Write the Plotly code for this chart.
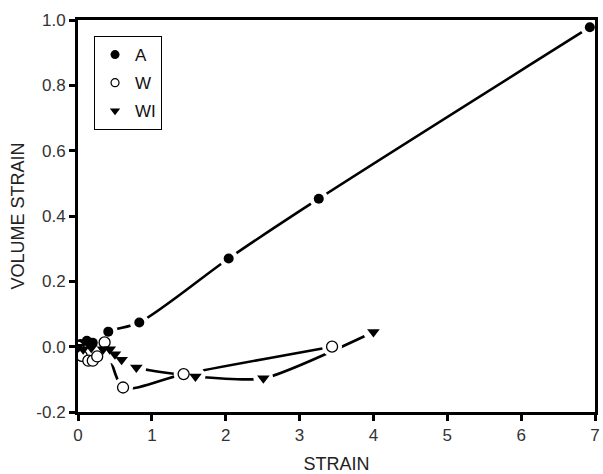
import plotly.graph_objects as go

# Specimen A
a_strain = [0.0, 0.03, 0.12, 0.2, 0.41, 0.83, 2.04, 3.26, 6.93]
a_vol = [0.0, 0.008, 0.018, 0.012, 0.046, 0.074, 0.27, 0.453, 0.978]

# Specimen W
w_strain = [0.0, 0.05, 0.14, 0.2, 0.26, 0.36, 0.61, 1.43, 3.44]
w_vol = [0.0, -0.028, -0.043, -0.043, -0.03, 0.013, -0.125, -0.084, 0.0]

# Specimen WI
wi_strain = [0.0, 0.07, 0.18, 0.34, 0.43, 0.5, 0.59, 0.79, 1.59, 2.51, 4.0]
wi_vol = [0.0, -0.008, -0.003, -0.008, -0.008, -0.023, -0.04, -0.064, -0.091, -0.097, 0.045]

x_ticks = [0, 1, 2, 3, 4, 5, 6, 7]
y_ticks = [-0.2, 0.0, 0.2, 0.4, 0.6, 0.8, 1.0]

# name, x, y, symbol, size, spline smoothing
series = [
    ("A", a_strain, a_vol, "circle", 10, 0.8),
    ("W", w_strain, w_vol, "circle-open", 11, 0.75),
    ("WI", wi_strain, wi_vol, "triangle-down", 11, 0.6),
]

fig = go.Figure()

# connecting curves
for name, xs, ys, sym, sz, sm in series:
    fig.add_trace(go.Scatter(
        x=xs, y=ys, mode="lines", showlegend=False, hoverinfo="skip",
        line=dict(color="black", width=2.6, shape="spline", smoothing=sm),
    ))

# white halos so each curve stops short of its markers
for name, xs, ys, sym, sz, sm in series:
    fig.add_trace(go.Scatter(
        x=xs, y=ys, mode="markers", showlegend=False, hoverinfo="skip",
        marker=dict(symbol="circle", size=sz + 9, color="white"),
    ))

# data markers (plot)
for name, xs, ys, sym, sz, sm in series:
    if sym == "circle-open":
        m = dict(symbol="circle", size=sz, color="white", line=dict(color="black", width=1.3))
    else:
        m = dict(symbol=sym, size=sz, color="black")
    fig.add_trace(go.Scatter(
        x=xs, y=ys, mode="markers", showlegend=False, hoverinfo="skip", marker=m,
    ))

# legend entries
legend_marks = [
    ("A", dict(symbol="circle", size=9, color="black")),
    ("W", dict(symbol="circle", size=8, color="white", line=dict(color="black", width=1.2))),
    ("WI", dict(symbol="triangle-down", size=9, color="black")),
]
for name, m in legend_marks:
    fig.add_trace(go.Scatter(
        x=[None], y=[None], mode="markers", name=name, legendgroup=name, marker=m,
    ))

fig.update_layout(
    width=603, height=474,
    margin=dict(l=78, r=3, t=20, b=61),
    paper_bgcolor="white", plot_bgcolor="white",
    font=dict(family="Liberation Sans, Arial, sans-serif", size=17, color="#222"),
    showlegend=True,
    legend=dict(
        x=0.031, y=0.959, xanchor="left", yanchor="top",
        bordercolor="black", borderwidth=1, bgcolor="white",
        font=dict(size=17, color="#111"), tracegroupgap=3,
        itemsizing="trace", itemwidth=30,
    ),
    xaxis=dict(
        range=[0, 7], tickvals=x_ticks, ticktext=[str(t) for t in x_ticks],
        showgrid=False, zeroline=False,
        showline=True, linecolor="black", linewidth=3, mirror=True,
        ticks="outside", ticklen=6, tickwidth=2.5, tickcolor="black",
        title=dict(text="STRAIN", font=dict(size=18), standoff=13),
        tickfont=dict(size=17, color="#333"),
    ),
    yaxis=dict(
        range=[-0.2, 1.0], tickvals=y_ticks, ticktext=[f"{t:.1f}" for t in y_ticks],
        showgrid=False, zeroline=False,
        showline=True, linecolor="black", linewidth=3, mirror=True,
        ticks="outside", ticklen=6, tickwidth=2.5, tickcolor="black",
        title=dict(text="VOLUME STRAIN", font=dict(size=18), standoff=8),
        tickfont=dict(size=17, color="#333"),
    ),
)

fig.write_html("out.html")
